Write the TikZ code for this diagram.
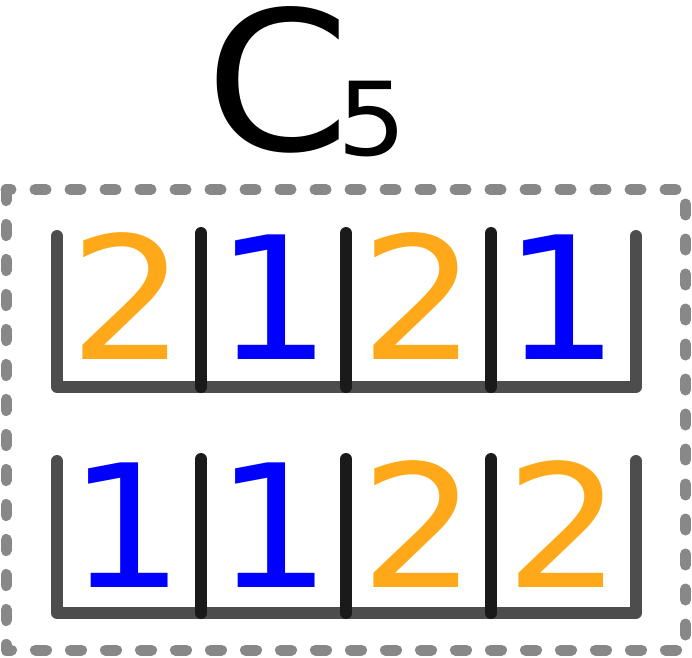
\documentclass[tikz,border=0pt]{standalone}
\usepackage{fontspec}
\setmainfont[FakeStretch=1.07]{DejaVu Sans}
\definecolor{orng}{HTML}{FFA91A}
\definecolor{blu}{HTML}{0000FF}
\definecolor{tray}{HTML}{4D4D4D}
\definecolor{divd}{HTML}{1A1A1A}
\definecolor{frame}{HTML}{888888}
\tikzset{
  traystyle/.style={draw=tray,line width=12pt,line cap=round,line join=round},
  divstyle/.style={draw=divd,line width=12pt,line cap=round},
  digit/.style={anchor=base,inner sep=0pt,font=\fontsize{171}{171}\selectfont},
  two/.style={digit,text=orng},
  one/.style={digit,text=blu},
  framestyle/.style={draw=frame,line width=11pt,line cap=round,line join=round,dash pattern=on 11pt off 24pt}
}
\begin{document}
\begin{tikzpicture}[x=1pt,y=-1pt]
\useasboundingbox (0,0) rectangle (692,657);
% title
\node[anchor=base,inner sep=0pt,font=\fontsize{194}{194}\selectfont] (C) at (278,150) {C};
\node[anchor=base,inner sep=0pt,font=\fontsize{102}{102}\selectfont] (five) at (372,155) {5};
% frame
\draw[framestyle] (6,189.5) rectangle (685.5,650);
% top row
\draw[traystyle] (57,236) -- (57,387) -- (636,387) -- (636,236);
\foreach \x in {201,346,491} \draw[divstyle] (\x,233) -- (\x,387);
\node[two] (t1) at (128,359) {2};
\node[one] (t2) at (273.5,359) {1};
\node[two] (t3) at (419,359) {2};
\node[one] (t4) at (562,359) {1};
% bottom row
\draw[traystyle] (57,461) -- (57,613) -- (636,613) -- (636,461);
\foreach \x in {201,346,491} \draw[divstyle] (\x,459) -- (\x,613);
\node[one] (b1) at (127,587) {1};
\node[one] (b2) at (273.5,587) {1};
\node[two] (b3) at (419,587) {2};
\node[two] (b4) at (563.5,587) {2};
\end{tikzpicture}
\end{document}
